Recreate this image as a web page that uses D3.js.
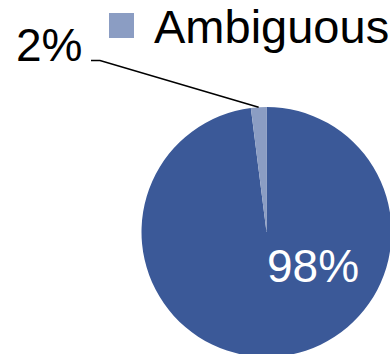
<!DOCTYPE html>
<html>
<head>
<meta charset="utf-8">
<script src="https://cdn.jsdelivr.net/npm/d3@7"></script>
<style>
  html, body { margin: 0; padding: 0; background: #fff; overflow: hidden; }
  svg { display: block; font-family: "Liberation Sans", Arial, sans-serif; }
</style>
</head>
<body>
<svg id="chart" width="390" height="354"></svg>
<script>
// Share of responses by category
const categories = ["Clear", "Ambiguous"];
const values = [98, 2];
const labels = ["98%", "2%"];
const legendCategories = ["Ambiguous"];
const colors = ["#3b5998", "#8b9dc3"];

const svg = d3.select("#chart");
const cx = 266.5, cy = 232, radius = 125;

const color = d3.scaleOrdinal().domain(categories).range(colors);

const pie = d3.pie().sort(null).value(d => d.value);
const arcs = pie(categories.map((c, i) => ({ category: c, value: values[i], label: labels[i] })));

const arc = d3.arc().innerRadius(0).outerRadius(radius);

const g = svg.append("g").attr("transform", `translate(${cx},${cy})`);

g.selectAll("path.slice")
  .data(arcs)
  .join("path")
  .attr("class", "slice")
  .attr("d", arc)
  .attr("fill", d => color(d.data.category));

// Label inside the large slice
const big = arcs[0];
g.append("text")
  .attr("x", 0.5)
  .attr("y", 50)
  .attr("fill", "#fff")
  .attr("font-size", 46)
  .text(big.data.label);

// Leader line and outside label for the small slice
const small = arcs[1];
const mid = (small.startAngle + small.endAngle) / 2;
const edge = [Math.sin(mid) * radius, -Math.cos(mid) * radius];
const elbow = [100 - cx, 60.5 - cy];
const tail = [91 - cx, 60.5 - cy];
g.append("polyline")
  .attr("points", [edge, elbow, tail].map(p => p.join(",")).join(" "))
  .attr("fill", "none")
  .attr("stroke", "#000")
  .attr("stroke-width", 1.6);

svg.append("text")
  .attr("x", 16)
  .attr("y", 61)
  .attr("fill", "#000")
  .attr("font-size", 46)
  .text(small.data.label);

// Legend
const legend = svg.append("g").attr("transform", "translate(109,13)");
legend.selectAll("rect")
  .data(legendCategories)
  .join("rect")
  .attr("x", 0)
  .attr("y", 0)
  .attr("width", 25)
  .attr("height", 25)
  .attr("fill", d => color(d));
legend.selectAll("text")
  .data(legendCategories)
  .join("text")
  .attr("x", 45)
  .attr("y", 30)
  .attr("fill", "#000")
  .attr("font-size", 47)
  .text(d => d);
</script>
</body>
</html>
